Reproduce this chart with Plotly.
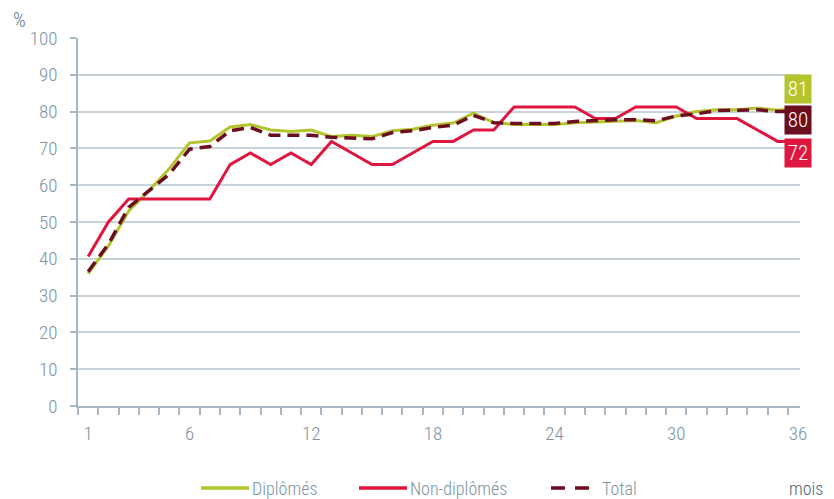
import plotly.graph_objects as go

months = list(range(1, 37))
diplomes = [36, 43.5, 53, 58.5, 64.5, 71.5, 72, 75.8, 76.5, 75, 74.6, 75,
            73.2, 73.6, 73.2, 74.8, 75.2, 76.3, 76.9, 79.6, 77, 76.5, 76.5, 76.5,
            77, 77.2, 77.6, 77.6, 77, 78.8, 80, 80.5, 80.5, 81, 80.4, 81]
non_diplomes = [40.6, 50, 56.25, 56.25, 56.25, 56.25, 56.25, 65.6, 68.75, 65.6, 68.75, 65.6,
                71.9, 68.75, 65.6, 65.6, 68.75, 71.9, 71.9, 75, 75, 81.25, 81.25, 81.25,
                81.25, 78.1, 78.1, 81.25, 81.25, 81.25, 78.1, 78.1, 78.1, 75, 71.9, 71.9]
total = [36.5, 44, 54, 58.5, 63, 69.8, 70.5, 74.8, 75.7, 73.6, 73.7, 73.6,
         73, 72.7, 72.6, 74.3, 74.8, 75.7, 76.3, 79, 77, 76.8, 76.8, 76.8,
         77.3, 77.6, 77.8, 77.8, 77.5, 78.8, 79.4, 80.3, 80.3, 80.5, 80, 80]
series_names = ["Diplômés", "Non-diplômés", "Total"]
end_labels = ["81", "80", "72"]
x_tickvals = [1, 6, 12, 18, 24, 30, 36]
y_tickvals = list(range(0, 101, 10))

GREEN = "#b3c42c"
RED = "#df173f"
MAROON = "#6b0e1f"
TXT = "#7d93a3"
GRID = "#c9d3da"
AXIS = "#a8b8c3"
FONT = "Roboto Condensed, Roboto, sans-serif"

# the page body adds an 8px margin: work in reference pixels, shift by OFF
OFF = 8
W, H = 834 - OFF, 499 - OFF
L, R, T, B = 78 - OFF, 800 - OFF, 38 - OFF, 406 - OFF


def px(x):
    return (x - OFF - L) / (R - L)


def py(y):
    return (B - (y - OFF)) / (B - T)


fig = go.Figure()
fig.add_trace(go.Scatter(x=months, y=diplomes, mode="lines", name=series_names[0],
                         line=dict(color=GREEN, width=3), showlegend=False))
fig.add_trace(go.Scatter(x=months, y=non_diplomes, mode="lines", name=series_names[1],
                         line=dict(color=RED, width=3), showlegend=False))
fig.add_trace(go.Scatter(x=months, y=total, mode="lines", name=series_names[2],
                         line=dict(color=MAROON, width=3.5, dash="12px,7px"), showlegend=False))

annotations = []
label_y = [86.1, 77.6, 68.8]
label_colors = [GREEN, MAROON, RED]
for lab, yv, col in zip(end_labels, label_y, label_colors):
    annotations.append(dict(x=36, y=yv, xref="x", yref="y", text=lab, showarrow=False,
                            bgcolor=col, width=24, height=26, borderpad=1,
                            font=dict(family=FONT, size=21, color="white", weight=300),
                            xanchor="center", yanchor="middle"))
annotations.append(dict(x=px(19), y=py(20), xref="paper", yref="paper", text="%",
                        showarrow=False, font=dict(family=FONT, size=20, color="#5b7486"),
                        xanchor="center", yanchor="middle"))
annotations.append(dict(x=px(824), y=py(488), xref="paper", yref="paper", text="mois",
                        showarrow=False, font=dict(family=FONT, size=18, color="#4e6576"),
                        xanchor="right", yanchor="middle", borderpad=0))

shapes = []
ly = py(488)
legend_items = [
    (series_names[0], GREEN, [(201, 249)], 251),
    (series_names[1], RED, [(359, 407)], 409),
    (series_names[2], MAROON, [(551, 565), (575, 589)], 601),
]
for name, col, segs, tx in legend_items:
    for a, b in segs:
        shapes.append(dict(type="line", xref="paper", yref="paper", x0=px(a), x1=px(b),
                           y0=ly, y1=ly, line=dict(color=col, width=3.5)))
    annotations.append(dict(x=px(tx), y=ly, xref="paper", yref="paper", text=name,
                            showarrow=False, xanchor="left", yanchor="middle", borderpad=0,
                            font=dict(family=FONT, size=18, color=TXT, weight=300)))

fig.update_layout(
    width=W, height=H,
    margin=dict(l=L, r=W - R, t=T, b=H - B),
    paper_bgcolor="white", plot_bgcolor="white",
    font=dict(family=FONT, size=19, color=TXT, weight=300),
    showlegend=False,
    annotations=annotations,
    shapes=shapes,
    xaxis=dict(range=[0.5, 36.1], tickvals=x_tickvals, ticktext=[str(v) for v in x_tickvals],
               ticks="", showgrid=False, zeroline=False, showline=True, linecolor=AXIS,
               linewidth=1.5, ticklabelstandoff=9,
               minor=dict(tickvals=[i + 0.5 for i in range(36)], ticks="outside",
                          ticklen=7, tickcolor=AXIS, tickwidth=1.5, showgrid=False)),
    yaxis=dict(range=[0, 100], tickvals=y_tickvals, ticks="outside", ticklen=6,
               tickcolor=AXIS, tickwidth=1.5, showgrid=True, gridcolor=GRID, gridwidth=1.5,
               zeroline=False, showline=True, linecolor=AXIS, linewidth=1.5,
               ticklabelstandoff=9),
)

fig.write_html("out.html")
